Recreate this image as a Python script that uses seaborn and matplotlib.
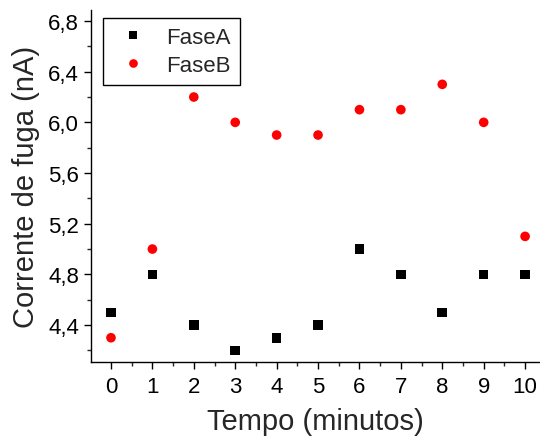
import numpy as np
import pandas as pd
import seaborn as sns
import matplotlib
matplotlib.use("Agg")
import matplotlib.pyplot as plt
from matplotlib.ticker import MultipleLocator, FuncFormatter

tempo = [0, 1, 2, 3, 4, 5, 6, 7, 8, 9, 10]
fase_a = [4.5, 4.8, 4.4, 4.2, 4.3, 4.4, 5.0, 4.8, 4.5, 4.8, 4.8]
fase_b = [4.3, 5.0, 6.2, 6.0, 5.9, 5.9, 6.1, 6.1, 6.3, 6.0, 5.1]

df = pd.DataFrame({
    "tempo": tempo * 2,
    "corrente": fase_a + fase_b,
    "serie": ["FaseA"] * len(tempo) + ["FaseB"] * len(tempo),
})

sns.set_style("ticks")
plt.rcParams["font.family"] = ["Liberation Sans", "DejaVu Sans"]

fig = plt.figure(figsize=(5.4, 4.39), dpi=100)
ax = fig.add_axes([0.1685, 0.173, 0.8315, 0.802])

sns.scatterplot(data=df, x="tempo", y="corrente", hue="serie", style="serie",
                palette={"FaseA": "black", "FaseB": "red"},
                markers={"FaseA": "s", "FaseB": "o"},
                s=48, linewidth=0, ax=ax)

ax.set_xlim(-0.483, 10.36)
ax.set_ylim(4.108, 6.887)
ax.xaxis.set_major_locator(MultipleLocator(1))
ax.xaxis.set_minor_locator(MultipleLocator(0.5))
ax.yaxis.set_major_locator(MultipleLocator(0.4))
ax.yaxis.set_minor_locator(MultipleLocator(0.2))
ax.yaxis.set_major_formatter(FuncFormatter(lambda v, p: f"{v:.1f}".replace(".", ",")))

for side in ["top", "right"]:
    ax.spines[side].set_visible(False)
for side in ["left", "bottom"]:
    ax.spines[side].set_linewidth(1.0)
    ax.spines[side].set_color("black")

ax.tick_params(which="major", direction="out", length=5, width=1, labelsize=16, colors="black")
ax.tick_params(axis="x", which="major", pad=5)
ax.tick_params(which="minor", direction="out", length=3, width=1)

ax.set_xlabel("Tempo (minutos)", fontsize=21, labelpad=7)
ax.set_ylabel("Corrente de fuga (nA)", fontsize=21, labelpad=6)

leg = ax.legend(loc="upper left", bbox_to_anchor=(0.0267, 0.977), borderaxespad=0,
                fontsize=16, frameon=True, fancybox=False, handlelength=1.9,
                handletextpad=0.55, borderpad=0.4, labelspacing=0.32, markerscale=0.9)
leg.get_frame().set_edgecolor("black")
leg.get_frame().set_linewidth(1.0)
leg.get_frame().set_alpha(1)

fig.savefig("out.png", dpi=100)
